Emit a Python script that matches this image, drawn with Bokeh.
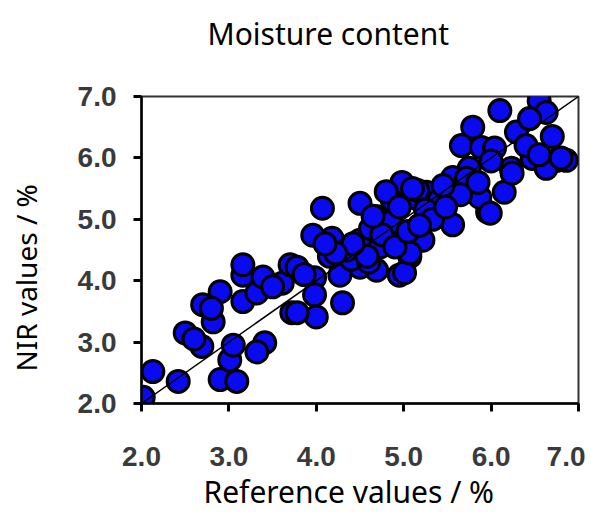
from bokeh.plotting import figure
from bokeh.models import Title, FixedTicker
from bokeh.embed import file_html
from bokeh.resources import INLINE

# Reference (x) and NIR predicted (y) moisture values, %
ref_vals = [2.02, 2.13, 2.42, 2.50, 2.69, 2.70, 2.82, 2.90, 2.90, 3.09, 3.01, 3.16, 3.16, 3.32,
            3.39, 3.41, 3.32, 3.61, 3.70, 3.72, 3.16, 4.07, 3.96, 4.18, 4.50, 4.70, 4.87, 4.98,
            5.15, 5.26, 5.38, 5.56, 5.56, 4.50, 4.87, 5.22, 5.07, 4.95, 4.50, 4.69, 4.27, 3.98,
            3.78, 4.30, 4.00, 3.78, 3.98, 4.73, 6.55, 6.63, 6.10, 5.79, 5.66, 5.89, 6.29, 6.44,
            6.47, 6.75, 6.86, 6.04, 6.23, 6.63, 6.15, 5.96, 5.87, 5.75, 6.24, 5.99, 5.30, 5.16,
            5.01, 5.72, 5.07, 4.62, 4.40, 4.85, 5.40, 5.25, 4.35, 4.80, 5.10, 3.86, 3.50, 2.60,
            2.80, 4.60, 5.65, 6.40, 6.70, 4.95, 4.15, 5.45, 4.75, 4.90, 5.05, 4.58, 4.42, 5.33,
            5.48, 4.22, 4.10, 5.85, 6.00, 6.55, 6.80, 4.65, 5.18, 3.05]
nir_vals = [2.10, 2.52, 2.36, 3.15, 2.93, 3.61, 3.33, 3.82, 2.39, 2.36, 2.71, 3.66, 4.09, 3.80,
            4.06, 2.99, 2.84, 3.96, 4.26, 3.48, 4.26, 5.18, 4.74, 4.69, 5.26, 5.04, 5.31, 5.60,
            5.34, 5.44, 5.04, 4.91, 5.68, 4.66, 4.69, 4.66, 4.39, 4.09, 4.22, 4.17, 4.09, 4.05,
            4.22, 3.64, 3.41, 3.48, 3.77, 4.55, 6.93, 6.74, 6.77, 6.50, 6.20, 6.17, 6.42, 6.64,
            5.99, 5.96, 5.96, 6.16, 5.83, 5.83, 5.44, 5.12, 5.36, 5.83, 5.75, 5.10, 5.02, 5.47,
            4.13, 5.67, 4.45, 4.85, 4.35, 4.95, 5.30, 5.15, 4.50, 5.45, 5.50, 4.10, 3.90, 3.05,
            3.55, 4.30, 5.40, 6.20, 6.35, 5.20, 4.40, 5.55, 4.75, 4.55, 4.80, 4.40, 4.60, 5.00,
            5.20, 4.45, 4.60, 5.60, 5.95, 6.05, 6.00, 5.05, 4.90, 2.95]
line_x = [2.0, 7.0]
line_y = [2.0, 7.0]
tick_vals = [2.0, 3.0, 4.0, 5.0, 6.0, 7.0]
tick_labels = ["2.0", "3.0", "4.0", "5.0", "6.0", "7.0"]

p = figure(width=585, height=511, x_range=(2.0, 7.0), y_range=(2.0, 7.0),
           output_backend="svg", toolbar_location=None,
           min_border_left=141, min_border_right=7, min_border_top=96, min_border_bottom=107)
p.background_fill_color = "white"
p.border_fill_color = "white"
p.outline_line_color = "#333333"
p.outline_line_width = 2
p.xgrid.visible = False
p.ygrid.visible = False

p.scatter(ref_vals, nir_vals, size=22, marker="circle", fill_color="#0A0AF0",
          line_color="black", line_width=3)
p.line(line_x, line_y, line_color="black", line_width=1.5)

tick_font = "Liberation Sans"
for ax in (p.xaxis[0], p.yaxis[0]):
    ax.ticker = FixedTicker(ticks=tick_vals)
    ax.major_label_overrides = {v: l for v, l in zip(tick_vals, tick_labels)}
    ax.major_label_text_font = tick_font
    ax.major_label_text_font_size = "28px"
    ax.major_label_text_font_style = "bold"
    ax.major_label_text_color = "#3a3a3a"
    ax.axis_line_width = 2.5
    ax.axis_line_color = "black"
    ax.major_tick_line_width = 3
    ax.major_tick_line_color = "black"
    ax.major_tick_out = 8
    ax.major_tick_in = 0
    ax.minor_tick_line_color = None

p.xaxis.major_label_standoff = 35
p.yaxis.major_label_standoff = 17

# spacer between plot frame and the title (keeps the title high, frame in place)
p.add_layout(Title(text=" ", text_font_size="1px", standoff=40), "above")
title = Title(text="Moisture content", align="left", offset=66,
              text_font="Noto Sans", text_font_size="30px", text_font_style="normal",
              text_color="black", standoff=0)
p.add_layout(title, "above")

xlab = Title(text="Reference values / %", align="left", offset=62,
             text_font="Noto Sans", text_font_size="30px", text_font_style="normal",
             text_color="black", standoff=0)
p.add_layout(xlab, "below")

# spacer between the y axis and its label
p.add_layout(Title(text=" ", text_font_size="1px", standoff=27), "left")
ylab = Title(text="NIR values / %", align="left", offset=32,
             text_font="Noto Sans", text_font_size="28px", text_font_style="normal",
             text_color="black", standoff=0)
p.add_layout(ylab, "left")

open("out.html", "w").write(file_html(p, INLINE))
